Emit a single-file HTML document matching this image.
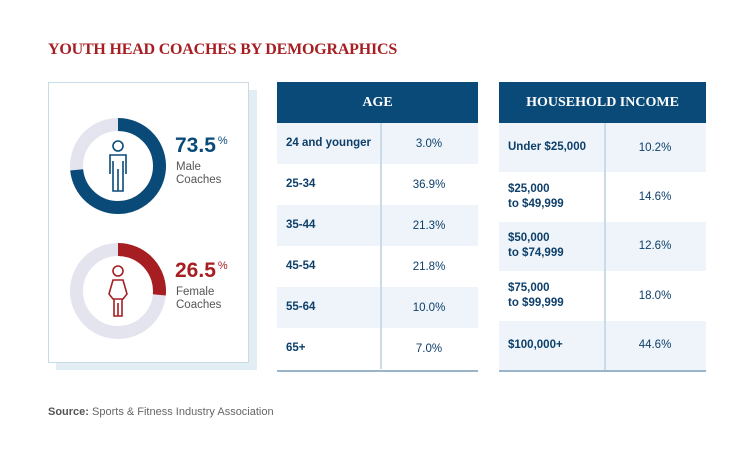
<!DOCTYPE html>
<html><head><meta charset="utf-8"><style>
body{margin:0;width:750px;height:464px;background:#fff;position:relative;font-family:"Liberation Sans",sans-serif;overflow:hidden}
.abs{position:absolute}
.title{left:48px;top:41px;font-family:"Liberation Serif",serif;font-weight:bold;font-size:16px;color:#a61e22;letter-spacing:-0.2px}
.hdr{background:#0a4a78;color:#fff;font-family:"Liberation Serif",serif;font-weight:bold;font-size:14px;display:flex;align-items:center;justify-content:center;height:41px}
.row{position:absolute;left:0;right:0;display:flex;align-items:center;color:#0d3f6a;font-size:11.5px}
.row .l{font-weight:bold;padding-left:9px;line-height:15px}
.row .v{position:absolute;text-align:center}
.shade{background:#eef4f9}
</style></head><body>
<div class="abs title">YOUTH HEAD COACHES BY DEMOGRAPHICS</div>

<div class="abs" style="left:56px;top:90px;width:201px;height:280px;background:#e3edf4"></div>
<div class="abs" style="left:48px;top:82px;width:199px;height:279px;background:#fff;border:1px solid #c9dbe7">
<svg id="donuts" width="199" height="279"></svg>
</div>

<div class="abs" style="left:277px;top:82px;width:201px;height:288px;border-bottom:2px solid #9ab5ca" id="age">
<div class="hdr">AGE</div>
</div>
<div class="abs" style="left:499px;top:82px;width:207px;height:288px;border-bottom:2px solid #9ab5ca" id="inc">
<div class="hdr">HOUSEHOLD INCOME</div>
</div>

<div class="abs" style="left:48px;top:406px;font-size:11px;color:#666"><b style="color:#555">Source:</b> Sports &amp; Fitness Industry Association</div>

<script>
const genderLabels=["Male","Female"];
const genderValues=[73.5,26.5];
const genderColors=["#0a4a78","#a61e22"];
const ageLabels=["24 and younger","25-34","35-44","45-54","55-64","65+"];
const ageValues=[3.0,36.9,21.3,21.8,10.0,7.0];
const incomeLabels=["Under $25,000","$25,000<br>to $49,999","$50,000<br>to $74,999","$75,000<br>to $99,999","$100,000+"];
const incomeValues=[10.2,14.6,12.6,18.0,44.6];

const NS="http://www.w3.org/2000/svg";
const svg=document.getElementById('donuts');
function mk(t,a){const e=document.createElementNS(NS,t);for(const k in a)e.setAttribute(k,a[k]);return e;}
genderValues.forEach((v,i)=>{
  const cx=69,cy=83+i*125,r=41.5,w=13;
  const g=mk('g',{});
  
  
  g.appendChild(mk('circle',{cx,cy,r,fill:'none',stroke:'#e3e4ee','stroke-width':w}));
  const a=v/100*2*Math.PI;
  const x1=cx,y1=cy-r,x2=cx+r*Math.sin(a),y2=cy-r*Math.cos(a);
  const arc=mk('path',{d:`M${x1},${y1} A${r},${r} 0 ${a>Math.PI?1:0} 1 ${x2},${y2}`,fill:'none',stroke:genderColors[i],'stroke-width':w});
  
  
  g.appendChild(arc);
  const c=genderColors[i];
  const ic=mk('g',{fill:'none',stroke:c,'stroke-width':1.6});
  ic.appendChild(mk('circle',{cx,cy:cy-20,r:5}));
  if(i==0){
    ic.appendChild(mk('path',{d:`M${cx-8},${cy+8} V${cy-11} H${cx+8} V${cy+8} M${cx-5},${cy-5} V${cy+25} H${cx+5} V${cy-5} M${cx},${cy+3} V${cy+25}`}));
  }else{
    ic.appendChild(mk('path',{d:`M${cx-5},${cy-11} H${cx+5} L${cx+9},${cy+3} L${cx+5},${cy+8} H${cx-5} L${cx-9},${cy+3} Z M${cx-4},${cy+8} V${cy+25} H${cx+4} V${cy+8} M${cx},${cy+12} V${cy+25}`}));
  }
  
  
  g.appendChild(ic);
  const t=mk('text',{x:126,y:cy-14,fill:c,'font-family':'Liberation Sans, sans-serif','font-weight':'bold','font-size':21});
  t.textContent=v.toFixed(1);
  const ts=mk('tspan',{'font-size':11,'font-weight':'normal',dy:-8,dx:2});ts.textContent='%';t.appendChild(ts);
  
  
  g.appendChild(t);
  [genderLabels[i],'Coaches'].forEach((s,j)=>{
    const l=mk('text',{x:127,y:cy+4+j*13,fill:'#555','font-family':'Liberation Sans, sans-serif','font-size':11.5});
    l.textContent=s;
    
    
    g.appendChild(l);
  });
  svg.appendChild(g);
});

function table(id,labels,values,rowH,divX,width){
  const t=document.getElementById(id);
  labels.forEach((lab,i)=>{
    const r=document.createElement('div');
    r.className='row'+(i%2==0?' shade':'');
    r.style.top=(41+i*rowH)+'px';r.style.height=rowH+'px';
    
    
    r.innerHTML='<span class="l">'+lab+'</span><span class="v" style="left:'+divX+'px;width:'+(width-divX)+'px">'+values[i].toFixed(1)+'%</span>';
    t.appendChild(r);
  });
  const d=document.createElement('div');
  d.className='abs';d.style.cssText='left:'+divX+'px;top:41px;width:2px;height:'+(labels.length*rowH)+'px;background:#c9dbe7';
  
  
  t.appendChild(d);
}
table('age',ageLabels,ageValues,41,103,201);
table('inc',incomeLabels,incomeValues,49.4,105,207);
</script>
</body></html>
